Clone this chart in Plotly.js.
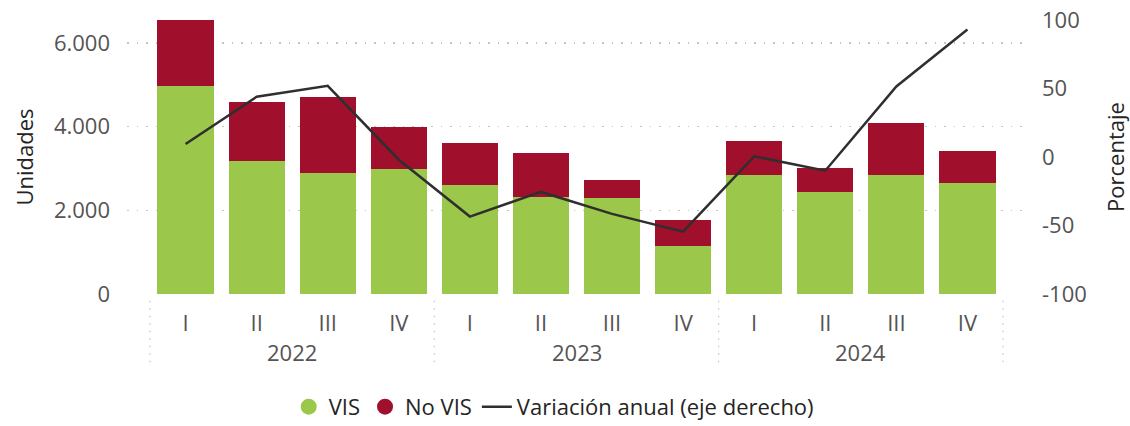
<!DOCTYPE html>
<html>
<head>
<meta charset="utf-8">
<script src="https://cdn.plot.ly/plotly-3.0.1.min.js"></script>
<style>html,body{margin:0;padding:0;background:#fff;}#chart{width:1130px;height:426px;}</style>
</head>
<body>
<div id="chart"></div>
<script>
// Data
var years    = ["2022","2022","2022","2022","2023","2023","2023","2023","2024","2024","2024","2024"];
var quarters = ["I","II","III","IV","I","II","III","IV","I","II","III","IV"];
var vis      = [4970, 3190, 2885, 2980, 2600, 2310, 2300, 1150, 2840, 2445, 2840, 2645];
var noVis    = [1630, 1390, 1830, 1020, 1020, 1070,  425,  620,  825,  575, 1255,  780];
var variacion= [9.5, 44, 52, -2, -43.5, -25.5, -41.5, -54.5, 0.5, -10, 51.5, 93];

var leftTicks = [0, 2000, 4000, 6000];
var rightTicks = [-100, -50, 0, 50, 100];
var rightTickText = ["-100", "-50", "0", "50", "100"];

var GREEN = "#9BC74A", RED = "#A00F2B", LINE = "#2f2f2f";
var TICKC = "#555353", TITLEC = "#252423";
var FONT = "Open Sans, Noto Sans, sans-serif";

// unique category keys built from the year/quarter arrays
var xcat = years.map(function(y, i){ return y + " " + quarters[i]; });

var traces = [
  {type:"bar", x:xcat, y:vis, name:"VIS", marker:{color:GREEN}, showlegend:false, hoverinfo:"y"},
  {type:"bar", x:xcat, y:noVis, name:"No VIS", marker:{color:RED}, showlegend:false, hoverinfo:"y"},
  {type:"scatter", mode:"lines", x:xcat, y:variacion, yaxis:"y2", name:"Variación anual (eje derecho)",
   line:{color:LINE, width:2.5}, showlegend:false},
  // legend entries
  {type:"scatter", mode:"markers", x:[null], y:[null], name:"VIS", marker:{color:GREEN, size:18, symbol:"circle"}},
  {type:"scatter", mode:"markers", x:[null], y:[null], name:"No VIS", marker:{color:RED, size:18, symbol:"circle"}},
  {type:"scatter", mode:"lines", x:[null], y:[null], yaxis:"y2", name:"Variación anual (eje derecho)", line:{color:LINE, width:2.5}}
];

var W = 1130, H = 426;
var mL = 127, mR = 105, mT = 20, mB = 132;
var xr = [-0.824, 11.81];
function xpaper(v){ return (v - xr[0]) / (xr[1] - xr[0]); }

// group boundaries and year label positions derived from the year array
var groups = [];
years.forEach(function(y, i){
  var g = groups.length ? groups[groups.length-1] : null;
  if (!g || g.year !== y) groups.push({year:y, start:i, end:i});
  else g.end = i;
});
var shapes = [];
groups.forEach(function(g, k){
  if (k === 0) shapes.push(g.start - 0.5);
  shapes.push(g.end + 0.5);
});
shapes = shapes.map(function(b){
  return {type:"line", xref:"paper", yref:"paper", x0:xpaper(b), x1:xpaper(b), y0:-0.025, y1:-0.27,
          line:{color:"#c8c8c8", width:1.3, dash:"1.5px,6px"}};
});
var annotations = groups.map(function(g){
  return {xref:"x", yref:"paper", x:(g.start + g.end)/2, y:-0.212, yanchor:"middle", xanchor:"center",
          text:g.year, showarrow:false, font:{family:FONT, size:22, color:TICKC}};
});

var layout = {
  width:W, height:H,
  margin:{l:mL, r:mR, t:mT, b:mB, pad:0},
  paper_bgcolor:"#fff", plot_bgcolor:"#fff",
  barmode:"stack", bargap:0.21,
  separators:",.",
  font:{family:FONT, size:22, color:TICKC},
  xaxis:{type:"category", range:xr, tickvals:xcat, ticktext:quarters, showgrid:false, zeroline:false,
         showline:false, ticks:"", ticklabelstandoff:14,
         tickfont:{family:FONT, size:22, color:TICKC}, fixedrange:true},
  yaxis:{range:[0, 6550], tickvals:leftTicks, tickformat:",", showgrid:true, gridcolor:"#c4c4c4",
         griddash:"1.5px,8px", gridwidth:1.5, zeroline:false, showline:false, ticks:"", ticklabelstandoff:16,
         tickfont:{family:FONT, size:22, color:TICKC},
         title:{text:"Unidades", font:{family:FONT, size:22, color:TITLEC}, standoff:14}},
  yaxis2:{range:[-100, 100], overlaying:"y", side:"right", tickvals:rightTicks, ticktext:rightTickText, showgrid:false,
          zeroline:false, showline:false, ticks:"", ticklabelstandoff:16,
          tickfont:{family:FONT, size:22, color:TICKC},
          title:{text:"Porcentaje", font:{family:FONT, size:22, color:TITLEC}, standoff:22}},
  legend:{orientation:"h", xref:"container", yref:"container", x:0.49, xanchor:"center", y:0.045, yanchor:"middle",
          font:{family:FONT, size:22, color:TITLEC}, itemwidth:30, tracegroupgap:0, traceorder:"normal"},
  shapes:shapes,
  annotations:annotations,
  showlegend:true
};

Plotly.newPlot("chart", traces, layout, {displayModeBar:false, staticPlot:true});
</script>
</body>
</html>
